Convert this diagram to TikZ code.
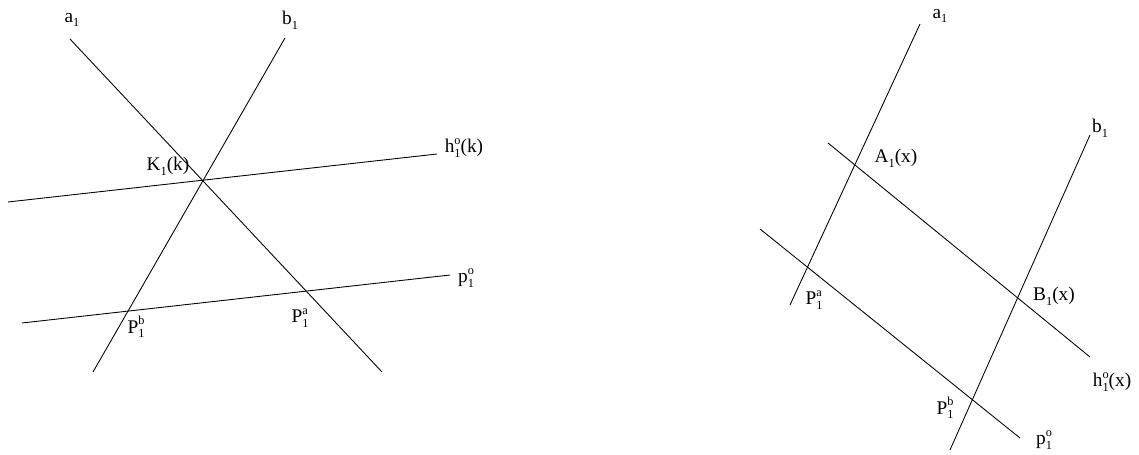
\documentclass[tikz,border=0pt]{standalone}
\usepackage{fontspec}
\setmainfont{Liberation Serif}
\usetikzlibrary{positioning}

\newcommand{\lab}[3]{#1\rlap{\raisebox{0.95ex}{\scriptsize #3}}\raisebox{-0.55ex}{\scriptsize #2}}

\begin{document}
\begin{tikzpicture}[
  x=0.02cm,y=-0.02cm,
  ln/.style={line width=0.5pt},
  lbl/.style={font=\fontsize{11}{13}\selectfont,inner sep=1pt},
]
  \useasboundingbox (0,0) rectangle (1139,455);

  % Left: lines a1, b1 meeting in K1
  \coordinate (aT) at (70,39);
  \coordinate (aB) at (382,372);
  \coordinate (bT) at (285,38);
  \coordinate (bB) at (93,372);
  \coordinate (hL) at (8,202);
  \coordinate (hR) at (437,154);
  \coordinate (pL) at (22,323);
  \coordinate (pR) at (450,275);
  \draw[ln] (aT) -- (aB);
  \draw[ln] (bT) -- (bB);
  \draw[ln] (hL) -- (hR);
  \draw[ln] (pL) -- (pR);

  \node[lbl] (la) at (72,20) {\lab{a}{1}{}};
  \node[lbl] (lb) at (290,20) {\lab{b}{1}{}};
  \node[lbl] (lK) at (168,166) {\lab{K}{1}{}(k)};
  \node[lbl] (lh) at (464,148) {\lab{h}{1}{o}(k)};
  \node[lbl] (lp) at (466,278) {\lab{p}{1}{o}};
  \node[lbl] (lPb) at (136,327) {\lab{P}{1}{b}};
  \node[lbl] (lPa) at (300,318) {\lab{P}{1}{a}};

  % Right: parallel lines a1, b1 and h1, p1
  \coordinate (a2T) at (920,24);
  \coordinate (a2B) at (790,305);
  \coordinate (b2T) at (1090,135);
  \coordinate (b2B) at (950,450);
  \coordinate (h2L) at (828,143);
  \coordinate (h2R) at (1090,357);
  \coordinate (p2L) at (760,229);
  \coordinate (p2R) at (1020,438);
  \draw[ln] (a2T) -- (a2B);
  \draw[ln] (b2T) -- (b2B);
  \draw[ln] (h2L) -- (h2R);
  \draw[ln] (p2L) -- (p2R);

  \node[lbl] (la2) at (940,16) {\lab{a}{1}{}};
  \node[lbl] (lb2) at (1100,128) {\lab{b}{1}{}};
  \node[lbl] (lA) at (896,158) {\lab{A}{1}{}(x)};
  \node[lbl] (lB) at (1054,296) {\lab{B}{1}{}(x)};
  \node[lbl] (lh2) at (1112,382) {\lab{h}{1}{o}(x)};
  \node[lbl] (lp2) at (1044,440) {\lab{p}{1}{o}};
  \node[lbl] (lPa2) at (814,300) {\lab{P}{1}{a}};
  \node[lbl] (lPb2) at (945,408) {\lab{P}{1}{b}};
\end{tikzpicture}
\end{document}
